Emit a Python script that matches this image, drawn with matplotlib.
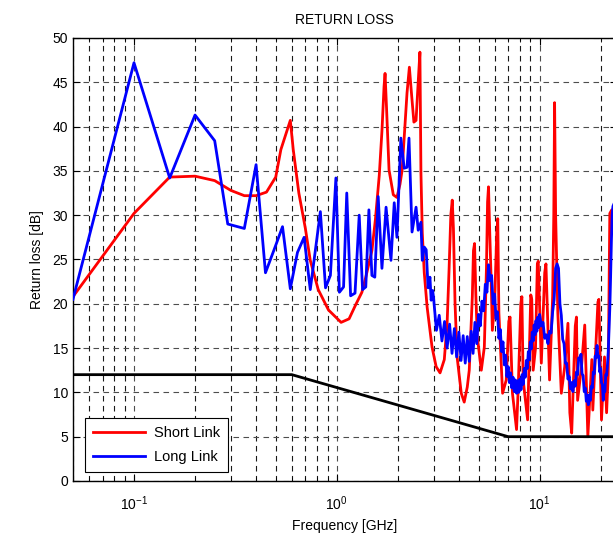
import matplotlib
matplotlib.use("Agg")
import matplotlib.pyplot as plt
import numpy as np

plt.rcParams['font.family'] = ['Liberation Sans', 'DejaVu Sans']
plt.rcParams['mathtext.fontset'] = 'custom'
plt.rcParams['mathtext.rm'] = 'Liberation Sans'
plt.rcParams['mathtext.it'] = 'Liberation Sans'

# limit line
limit_f = [0.05, 0.6, 7.0, 25.0]
limit_db = [12, 12, 5, 5]

# short link
short_f = [0.05, 0.1, 0.15, 0.2, 0.25, 0.3, 0.35, 0.4, 0.45, 0.5, 0.53, 0.59, 0.61, 0.65, 0.7,
           0.74, 0.81, 0.91, 1.05, 1.15, 1.24, 1.33, 1.39, 1.49, 1.55, 1.62, 1.67, 1.71, 1.73,
           1.76, 1.81, 1.9, 1.98, 2.05, 2.1, 2.16, 2.22, 2.28, 2.34, 2.4, 2.46, 2.52, 2.57,
           2.6, 2.64, 2.7, 2.79, 2.95, 3.09, 3.23, 3.39, 3.5, 3.58, 3.65, 3.71, 3.76, 3.83, 3.92, 4.11,
           4.25, 4.4, 4.5, 4.66, 4.72, 4.78, 4.85, 4.93, 5.16, 5.34, 5.47, 5.54, 5.6, 5.68, 5.77, 5.85, 6.0,
           6.15, 6.22, 6.3, 6.57, 6.85, 7.05, 7.15, 7.35, 7.7, 7.85, 8.08, 8.18, 8.3, 8.73, 9.05, 9.15, 9.3, 9.55,
           9.75, 9.85, 10.2, 10.6, 10.75, 11.2, 11.6, 11.75, 11.86, 12.0, 12.3, 12.8, 13.3, 13.8, 14.1, 14.4,
           15.0, 15.2, 15.4, 16.1, 16.7, 17.3, 18.1, 18.3, 19.4, 19.6, 20.2, 20.9, 21.4, 21.8, 22.2,
           22.7, 24.0]
short_db = [20.8, 30.2, 34.3, 34.4, 33.9, 32.8, 32.2, 32.2, 32.6, 34.3, 37.4, 40.7, 37.4, 32.5, 28.5,
            24.9, 21.6, 19.3, 17.9, 18.3, 19.9, 21.3, 23.0, 26.0, 29.5, 34.5, 39.5, 44.5, 46.0,
            42.0, 35.1, 32.3, 32.0, 33.5, 35.1, 39.5, 43.8, 46.7, 43.5, 40.5, 40.7, 45.0, 48.4,
            34.8, 28.0, 23.5, 19.6, 15.1, 12.9, 12.2, 13.7, 17.8, 24.0, 30.0, 31.7, 28.5, 20.0, 14.0, 9.9,
            8.9, 10.6, 12.5, 20.8, 26.0, 26.8, 21.0, 16.3, 12.5, 15.1, 24.0, 31.5, 33.2, 28.0, 22.7, 17.0, 20.0,
            28.0, 29.6, 19.0, 9.9, 11.4, 18.0, 18.5, 9.9, 5.8, 10.6, 20.0, 20.8, 11.4, 6.9, 21.0, 20.5, 12.5, 15.0,
            24.5, 24.8, 13.3, 23.5, 24.5, 11.4, 20.8, 30.0, 42.7, 30.0, 19.0, 9.9, 12.9, 17.8, 7.7, 5.4,
            17.5, 18.5, 9.1, 12.9, 17.6, 5.0, 13.7, 8.0, 20.2, 20.5, 6.9, 14.0, 7.7, 12.0, 30.2,
            30.6, 30.0]

# long link
long_f = [0.05, 0.1, 0.15, 0.2, 0.25, 0.29, 0.35, 0.4, 0.445, 0.5, 0.54, 0.59, 0.64, 0.69, 0.74,
          0.83, 0.88, 0.93, 0.99, 1.03, 1.08, 1.12, 1.17, 1.23, 1.29, 1.34, 1.39, 1.44, 1.49,
          1.54, 1.6, 1.67, 1.75, 1.85, 1.92, 1.98, 2.07, 2.15, 2.22, 2.27, 2.35, 2.46, 2.52,
          2.6, 2.64, 2.7, 2.76, 2.82, 2.88, 2.92, 2.97,
          3.0, 3.1, 3.2, 3.3, 3.4, 3.5, 3.6, 3.7, 3.8, 3.9, 4.0, 4.1, 4.2, 4.3, 4.4, 4.5,
          4.6, 4.7, 4.8, 4.9, 5.0, 5.1, 5.2, 5.3, 5.4, 5.5, 5.6, 5.7, 5.8, 5.9, 6.0, 6.1,
          6.2, 6.3, 6.4, 6.5, 6.6, 6.7, 6.8, 6.9, 7.0, 7.1, 7.2, 7.3, 7.4, 7.5, 7.6, 7.7,
          7.8, 7.9, 8.0, 8.1, 8.2, 8.3, 8.4, 8.5, 8.6, 8.7, 8.8, 8.9, 9.0, 9.1, 9.2, 9.3,
          9.4, 9.5, 9.6, 9.7, 9.8, 9.9, 10.0, 10.2, 10.4, 10.6, 10.8, 11.0, 11.2, 11.4,
          11.6, 11.8, 12.0, 12.2, 12.4, 12.6, 12.8, 13.0, 13.2, 13.4, 13.6, 13.8, 14.0,
          14.2, 14.4, 14.6, 14.8, 15.0, 15.2, 15.4, 15.6, 15.8, 16.0, 16.2, 16.4, 16.6,
          16.8, 17.0, 17.2, 17.4, 17.6, 17.8, 18.0, 18.2, 18.4, 18.6, 18.8, 19.0, 19.2,
          19.4, 19.6, 19.8, 20.0, 20.2, 20.4, 20.6, 20.8, 21.0, 21.2, 21.4, 21.6, 21.8,
          22.0, 22.2, 22.4, 22.6, 22.8, 23.0, 24.0]
long_db = [20.5, 47.2, 34.2, 41.3, 38.4, 29.0, 28.5, 35.7, 23.5, 26.6, 28.7, 21.7, 25.8, 27.5, 21.6,
           30.4, 21.8, 23.2, 34.2, 21.3, 21.9, 32.5, 20.9, 21.2, 30.0, 21.6, 21.9, 30.6, 23.2,
           23.0, 32.1, 24.0, 30.9, 24.9, 31.4, 27.5, 38.7, 35.3, 35.4, 38.7, 28.1, 30.9, 28.3,
           29.2, 24.9, 26.4, 26.1, 21.8, 23.0, 20.4, 21.5,
           20.7, 17.0, 18.7, 15.8, 18.0, 15.0, 17.7, 14.4, 17.2, 14.0, 16.8, 13.6, 16.4, 13.3, 16.3, 13.5,
           16.9, 14.4, 17.9, 15.5, 18.8, 17.5, 20.3, 19.2, 22.2, 21.3, 24.4, 22.6, 23.2, 20.0, 21.1, 18.3,
           19.1, 16.1, 17.1, 14.6, 15.7, 13.1, 14.2, 11.8, 12.9, 11.1, 12.2, 10.5, 11.7, 10.1, 11.4, 9.9,
           11.3, 10.0, 11.5, 10.3, 12.0, 10.9, 12.7, 11.7, 13.6, 12.7, 14.6, 13.7, 15.7, 14.9, 16.8, 15.8,
           17.6, 16.5, 18.1, 16.9, 18.5, 17.3, 18.8, 17.5, 17.9, 16.1, 16.5, 15.5, 16.9, 16.7,
           19.1, 20.5, 24.0, 24.5, 24.0, 20.0, 18.7, 16.0, 15.5, 13.3, 13.3, 11.5, 11.8,
           10.4, 11.1, 10.1, 11.3, 10.7, 12.3, 12.0, 13.9, 13.7, 14.3, 12.1, 11.9, 10.1,
           10.5, 9.0, 9.7, 8.6, 9.7, 9.1, 10.7, 10.5, 12.3, 12.1, 14.1, 13.9, 15.3,
           14.0, 14.1, 12.3, 12.7, 11.1, 10.9, 9.1, 10.3, 10.1, 12.0, 11.9, 13.0, 14.5,
           17.0, 19.5, 23.0, 27.0, 30.0, 31.0, 32.0]

fig = plt.figure(figsize=(6.13, 5.34), dpi=100)
ax = fig.add_axes([0.119, 0.0993, 0.887, 0.8296])

ax.plot(short_f, short_db, color='red', lw=2, label='Short Link', zorder=3)
ax.plot(long_f, long_db, color='blue', lw=2, label='Long Link', zorder=4)
ax.plot(limit_f, limit_db, color='black', lw=2, zorder=5)

ax.set_xscale('log')
ax.set_xlim(0.05, 24)
ax.set_ylim(0, 50)
ax.set_yticks(np.arange(0, 51, 5))

ax.grid(True, which='major', color='0.3', linestyle=(0, (5, 4)), lw=0.8)
ax.grid(True, which='minor', axis='x', color='0.1', linestyle=(0, (5, 4)), lw=0.8)
ax.tick_params(which='both', direction='in', top=True, right=True, labelsize=10)
ax.tick_params(which='major', length=5)
ax.tick_params(which='minor', length=3)
ax.tick_params(axis='x', pad=10)
ax.xaxis.set_minor_formatter(plt.NullFormatter())
for s in ax.spines.values():
    s.set_linewidth(1.0)

ax.set_xlabel('Frequency [GHz]', fontsize=10, labelpad=4)
ax.set_ylabel('Return loss [dB]', fontsize=10, labelpad=6)
ax.set_title('RETURN LOSS', fontsize=10, pad=10)

leg = ax.legend(loc='lower left', bbox_to_anchor=(0.016, 0.014), fancybox=False,
                edgecolor='black', framealpha=1, fontsize=10.5, handlelength=3.6,
                borderpad=0.55, labelspacing=0.7, handletextpad=0.6, borderaxespad=0.2)
leg.get_frame().set_linewidth(0.8)

fig.savefig('out.png', dpi=100)
